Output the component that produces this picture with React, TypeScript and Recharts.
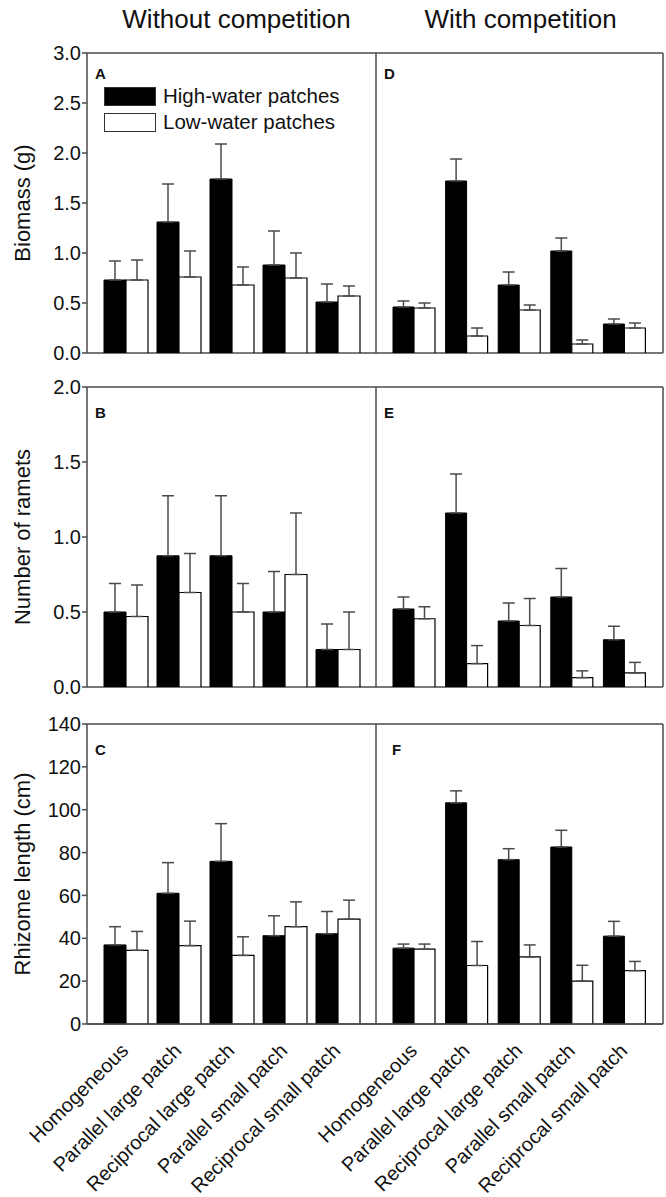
import React from 'react';
import { BarChart, Bar, XAxis, YAxis, ErrorBar, Legend, CartesianGrid } from 'recharts';

const categories = [
  'Homogeneous',
  'Parallel large patch',
  'Reciprocal large patch',
  'Parallel small patch',
  'Reciprocal small patch',
];

// Biomass (g)
const biomassHighNoComp = [0.73, 1.31, 1.74, 0.88, 0.51];
const biomassHighNoCompSE = [0.19, 0.38, 0.35, 0.34, 0.18];
const biomassLowNoComp = [0.73, 0.76, 0.68, 0.75, 0.57];
const biomassLowNoCompSE = [0.2, 0.26, 0.18, 0.25, 0.1];
const biomassHighComp = [0.46, 1.72, 0.68, 1.02, 0.29];
const biomassHighCompSE = [0.06, 0.22, 0.13, 0.13, 0.05];
const biomassLowComp = [0.45, 0.17, 0.43, 0.09, 0.25];
const biomassLowCompSE = [0.05, 0.08, 0.05, 0.04, 0.05];

// Number of ramets
const rametsHighNoComp = [0.5, 0.875, 0.875, 0.5, 0.25];
const rametsHighNoCompSE = [0.19, 0.4, 0.4, 0.27, 0.17];
const rametsLowNoComp = [0.47, 0.63, 0.5, 0.75, 0.25];
const rametsLowNoCompSE = [0.21, 0.26, 0.19, 0.41, 0.25];
const rametsHighComp = [0.52, 1.16, 0.44, 0.6, 0.315];
const rametsHighCompSE = [0.08, 0.26, 0.12, 0.19, 0.09];
const rametsLowComp = [0.455, 0.156, 0.41, 0.0625, 0.094];
const rametsLowCompSE = [0.08, 0.12, 0.18, 0.045, 0.07];

// Rhizome length (cm)
const rhizomeHighNoComp = [36.9, 61.0, 75.9, 41.2, 42.1];
const rhizomeHighNoCompSE = [8.5, 14.3, 17.6, 9.3, 10.4];
const rhizomeLowNoComp = [34.4, 36.6, 32.0, 45.4, 48.9];
const rhizomeLowNoCompSE = [8.8, 11.4, 8.7, 11.6, 8.9];
const rhizomeHighComp = [35.4, 103.2, 76.7, 82.6, 41.0];
const rhizomeHighCompSE = [1.9, 5.6, 5.1, 7.8, 6.9];
const rhizomeLowComp = [34.9, 27.3, 31.3, 20.0, 24.9];
const rhizomeLowCompSE = [2.4, 11.2, 5.6, 7.4, 4.3];

const biomassTicks = [0, 0.5, 1.0, 1.5, 2.0, 2.5, 3.0];
const rametsTicks = [0, 0.5, 1.0, 1.5, 2.0];
const rhizomeTicks = [0, 20, 40, 60, 80, 100, 120, 140];

const seriesNames = ['High-water patches', 'Low-water patches'];
const panelTitles = ['Without competition', 'With competition'];

const STROKE = '#4a4a4a';
const FONT = '"Liberation Sans", Arial, sans-serif';

function makeRows(high: number[], highSE: number[], low: number[], lowSE: number[]) {
  return categories.map((name, i) => ({
    name,
    high: high[i],
    highErr: [0, highSE[i]],
    low: low[i],
    lowErr: [0, lowSE[i]],
  }));
}

const XTick = (props: any) => {
  const { x, y, payload } = props;
  const ax = x + 4;
  const ay = y + 28;
  return (
    <text
      x={ax}
      y={ay}
      transform={`rotate(-45, ${ax}, ${ay})`}
      textAnchor="end"
      fontSize={20}
      fontFamily={FONT}
      fill="#111"
    >
      {payload.value}
    </text>
  );
};

const YLabel = (props: any) => {
  const { viewBox, text } = props;
  const cy = (viewBox?.y ?? 0) + (viewBox?.height ?? 0) / 2;
  return (
    <text
      x={22}
      y={cy}
      transform={`rotate(-90, 22, ${cy})`}
      textAnchor="middle"
      dominantBaseline="central"
      fontSize={22}
      fontFamily={FONT}
      fill="#111"
    >
      {text}
    </text>
  );
};

const LegendContent = (props: any) => {
  const { payload } = props;
  return (
    <div style={{ fontFamily: FONT, fontSize: 20.5, color: '#111', lineHeight: '26px' }}>
      {(payload || []).map((p: any, i: number) => (
        <div key={i} style={{ display: 'flex', alignItems: 'center', height: 26 }}>
          <span
            style={{
              display: 'inline-block',
              width: 50,
              height: 17,
              background: p.color,
              border: '1.5px solid #333',
              marginRight: 7,
            }}
          />
          <span>{p.value}</span>
        </div>
      ))}
    </div>
  );
};

type HalfProps = {
  data: any[];
  side: 'left' | 'right';
  domain: [number, number];
  ticks: number[];
  fmt: (v: number) => string;
  yLabel: string;
  showX: boolean;
  legend?: boolean;
};

function HalfChart({ data, side, domain, ticks, fmt, yLabel, showX, legend }: HalfProps) {
  const isLeft = side === 'left';
  const xh = showX ? 172 : 0;
  const width = isLeft ? 377 : 290;
  const height = 5 + 300 + xh + (showX ? 0 : 2);
  const line = { stroke: STROKE, strokeWidth: 1.5 };
  const hGen = (p: any) => {
    const o = p?.offset || {};
    return [o.top, o.top + o.height];
  };
  const vGen = (p: any) => {
    const o = p?.offset || {};
    return isLeft ? [o.left + o.width] : [o.left + o.width];
  };
  return (
    <BarChart
      width={width}
      height={height}
      data={data}
      margin={{ top: 5, right: isLeft ? 1 : 3, left: 0, bottom: showX ? 0 : 2 }}
      barGap={0}
      barCategoryGap={5}
    >
      <CartesianGrid
        xAxisId="b"
        yAxisId="v"
        stroke={STROKE}
        strokeWidth={1.5}
        horizontalCoordinatesGenerator={hGen}
        verticalCoordinatesGenerator={vGen}
      />
      <XAxis
        xAxisId="b"
        dataKey="name"
        padding={{ left: 12, right: 12 }}
        height={xh}
        interval={0}
        tickLine={false}
        tickSize={0}
        tickMargin={0}
        axisLine={line}
        tick={showX ? <XTick /> : false}
      />
      {isLeft ? (
        <YAxis
          yAxisId="v"
          width={87}
          domain={domain}
          ticks={ticks}
          interval={0}
          tickFormatter={fmt}
          tickSize={5}
          tickMargin={1}
          tickLine={line}
          axisLine={line}
          tick={{ fontSize: 20, fill: '#111', fontFamily: FONT }}
          label={<YLabel text={yLabel} />}
          allowDataOverflow
        />
      ) : (
        <YAxis yAxisId="v" hide domain={domain} ticks={ticks} allowDataOverflow />
      )}
      {legend && (
        <Legend
          layout="vertical"
          align="center"
          verticalAlign="middle"
          wrapperStyle={{ left: 104, top: 35, width: 270 }}
          content={<LegendContent />}
        />
      )}
      <Bar
        xAxisId="b"
        yAxisId="v"
        dataKey="high"
        name={seriesNames[0]}
        fill="#000"
        stroke="#000"
        strokeWidth={1}
        isAnimationActive={false}
      >
        <ErrorBar dataKey="highErr" width={6} stroke={STROKE} strokeWidth={1.5} direction="y" isAnimationActive={false} />
      </Bar>
      <Bar
        xAxisId="b"
        yAxisId="v"
        dataKey="low"
        name={seriesNames[1]}
        fill="#fff"
        stroke="#000"
        strokeWidth={1.2}
        isAnimationActive={false}
      >
        <ErrorBar dataKey="lowErr" width={6} stroke={STROKE} strokeWidth={1.5} direction="y" isAnimationActive={false} />
      </Bar>
    </BarChart>
  );
}

const letterStyle: React.CSSProperties = {
  position: 'absolute',
  fontFamily: FONT,
  fontWeight: 'bold',
  fontSize: 15,
  color: '#111',
  lineHeight: '15px',
};

const titleStyle: React.CSSProperties = {
  position: 'absolute',
  top: 4,
  width: 289,
  textAlign: 'center',
  fontFamily: FONT,
  fontSize: 26,
  lineHeight: '30px',
  color: '#111',
};

export default function App() {
  const rows = [
    {
      top: 48,
      left: makeRows(biomassHighNoComp, biomassHighNoCompSE, biomassLowNoComp, biomassLowNoCompSE),
      right: makeRows(biomassHighComp, biomassHighCompSE, biomassLowComp, biomassLowCompSE),
      domain: [0, 3] as [number, number],
      ticks: biomassTicks,
      fmt: (v: number) => v.toFixed(1),
      yLabel: 'Biomass (g)',
      letters: ['A', 'D'],
      showX: false,
      legend: true,
    },
    {
      top: 382,
      left: makeRows(rametsHighNoComp, rametsHighNoCompSE, rametsLowNoComp, rametsLowNoCompSE),
      right: makeRows(rametsHighComp, rametsHighCompSE, rametsLowComp, rametsLowCompSE),
      domain: [0, 2] as [number, number],
      ticks: rametsTicks,
      fmt: (v: number) => v.toFixed(1),
      yLabel: 'Number of ramets',
      letters: ['B', 'E'],
      showX: false,
      legend: false,
    },
    {
      top: 719,
      left: makeRows(rhizomeHighNoComp, rhizomeHighNoCompSE, rhizomeLowNoComp, rhizomeLowNoCompSE),
      right: makeRows(rhizomeHighComp, rhizomeHighCompSE, rhizomeLowComp, rhizomeLowCompSE),
      domain: [0, 140] as [number, number],
      ticks: rhizomeTicks,
      fmt: (v: number) => String(v),
      yLabel: 'Rhizome length (cm)',
      letters: ['C', 'F'],
      showX: true,
      legend: false,
    },
  ];

  return (
    <div
      style={{
        position: 'absolute',
        left: 0,
        top: 0,
        width: 666,
        height: 1197,
        background: '#fff',
        overflow: 'hidden',
      }}
    >
      <style>{'.recharts-surface{overflow:visible}'}</style>
      <div style={{ ...titleStyle, left: 92 }}>{panelTitles[0]}</div>
      <div style={{ ...titleStyle, left: 376 }}>{panelTitles[1]}</div>
      {rows.map((r, i) => (
        <React.Fragment key={i}>
          <div style={{ position: 'absolute', left: 0, top: r.top }}>
            <HalfChart
              data={r.left}
              side="left"
              domain={r.domain}
              ticks={r.ticks}
              fmt={r.fmt}
              yLabel={r.yLabel}
              showX={r.showX}
              legend={r.legend}
            />
          </div>
          <div style={{ position: 'absolute', left: 376, top: r.top }}>
            <HalfChart
              data={r.right}
              side="right"
              domain={r.domain}
              ticks={r.ticks}
              fmt={r.fmt}
              yLabel={r.yLabel}
              showX={r.showX}
            />
          </div>
          <div style={{ ...letterStyle, left: 95, top: r.top + 18 + (i === 0 ? 0 : 5) }}>{r.letters[0]}</div>
          <div style={{ ...letterStyle, left: i === 2 ? 392 : 384, top: r.top + 18 + (i === 0 ? 0 : 5) }}>{r.letters[1]}</div>
        </React.Fragment>
      ))}
    </div>
  );
}
